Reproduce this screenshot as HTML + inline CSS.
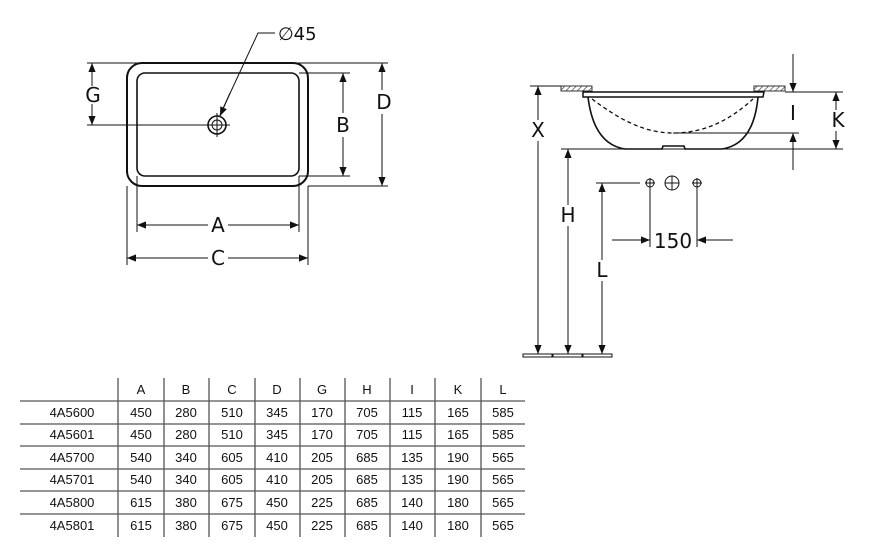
<!DOCTYPE html>
<html><head><meta charset="utf-8"><style>
body{margin:0;background:#fff}
svg{display:block}
text{font-family:"DejaVu Sans","Liberation Sans",sans-serif;fill:#111}
.t text{font-family:"Liberation Sans",sans-serif}
</style></head><body>
<svg width="892" height="548" viewBox="0 0 892 548" xmlns="http://www.w3.org/2000/svg">
<defs>
<marker id="a" viewBox="0 0 10 10" refX="10" refY="5" markerWidth="9" markerHeight="9" orient="auto-start-reverse" markerUnits="userSpaceOnUse"><path d="M0,1 L10,5 L0,9 z" fill="#111"/></marker>
<pattern id="h" width="4" height="4" patternUnits="userSpaceOnUse" patternTransform="rotate(45)"><line x1="0" y1="0" x2="0" y2="4" stroke="#333" stroke-width="1.3"/></pattern>
</defs>
<g stroke="#111" fill="none" stroke-width="1">
<rect x="127" y="63" width="181" height="123" rx="15" stroke-width="2"/>
<rect x="137" y="73" width="162" height="103" rx="8" stroke-width="1.6"/>
<circle cx="217" cy="125" r="9" stroke-width="1.6"/>
<circle cx="217" cy="125" r="5"/>
<line x1="217" y1="113" x2="217" y2="137"/><line x1="205" y1="125" x2="230" y2="125"/>
<line x1="87" y1="63" x2="388" y2="63"/>
<line x1="308" y1="186" x2="388" y2="186"/>
<line x1="299" y1="73" x2="350" y2="73"/><line x1="299" y1="176" x2="350" y2="176"/>
<line x1="87" y1="125" x2="210" y2="125"/>
<line x1="92" y1="86" x2="92" y2="63" marker-end="url(#a)"/><line x1="92" y1="104" x2="92" y2="125" marker-end="url(#a)"/>
<line x1="343" y1="113" x2="343" y2="73" marker-end="url(#a)"/><line x1="343" y1="137" x2="343" y2="176" marker-end="url(#a)"/>
<line x1="382" y1="90" x2="382" y2="63" marker-end="url(#a)"/><line x1="382" y1="114" x2="382" y2="186" marker-end="url(#a)"/>
<line x1="137" y1="176" x2="137" y2="232"/><line x1="299" y1="176" x2="299" y2="232"/>
<line x1="127" y1="186" x2="127" y2="265"/><line x1="308" y1="186" x2="308" y2="265"/>
<line x1="208" y1="225" x2="137" y2="225" marker-end="url(#a)"/><line x1="228" y1="225" x2="299" y2="225" marker-end="url(#a)"/>
<line x1="208" y1="258" x2="127" y2="258" marker-end="url(#a)"/><line x1="228" y1="258" x2="308" y2="258" marker-end="url(#a)"/>
<polyline points="275,33 258,33 220,115"/>
<line x1="230" y1="93" x2="220" y2="116" marker-end="url(#a)"/>
<rect x="561" y="86" width="31" height="5" fill="url(#h)" stroke="#333"/>
<rect x="754" y="86" width="31" height="5" fill="url(#h)" stroke="#333"/>
<path d="M583,92 L764,92 L763,97 L583,97 Z" stroke-width="1.5"/>
<path d="M588,97 C592,130 605,146 625,149 L662,149 L663,146 L684,146 L685,149 L722,149 C742,146 755,130 758,97" stroke-width="1.6"/>
<path d="M592,99 C620,120 645,133 673,133 C705,133 730,120 753,99" stroke-dasharray="4,3" stroke-width="1.3"/>
<line x1="673" y1="133" x2="799" y2="133"/>
<line x1="530" y1="86" x2="561" y2="86"/>
<line x1="561" y1="149" x2="843" y2="149"/>
<line x1="785" y1="92" x2="843" y2="92"/>
<line x1="538" y1="120" x2="538" y2="86" marker-end="url(#a)"/><line x1="538" y1="141" x2="538" y2="354" marker-end="url(#a)"/>
<line x1="836" y1="110" x2="836" y2="92" marker-end="url(#a)"/><line x1="836" y1="131" x2="836" y2="149" marker-end="url(#a)"/>
<line x1="793" y1="54" x2="793" y2="92" marker-end="url(#a)"/><line x1="793" y1="170" x2="793" y2="133" marker-end="url(#a)"/>
<line x1="568" y1="205" x2="568" y2="149" marker-end="url(#a)"/><line x1="568" y1="226" x2="568" y2="354" marker-end="url(#a)"/>
<line x1="596" y1="183" x2="640" y2="183"/>
<line x1="602" y1="260" x2="602" y2="183" marker-end="url(#a)"/><line x1="602" y1="281" x2="602" y2="354" marker-end="url(#a)"/>
<circle cx="650" cy="183" r="4"/><line x1="645" y1="183" x2="655" y2="183"/><line x1="650" y1="178" x2="650" y2="247"/>
<circle cx="697" cy="183" r="4"/><line x1="692" y1="183" x2="702" y2="183"/><line x1="697" y1="178" x2="697" y2="247"/>
<circle cx="672" cy="183" r="7"/><line x1="665" y1="183" x2="679" y2="183"/><line x1="672" y1="176" x2="672" y2="190"/>
<line x1="612" y1="240" x2="650" y2="240" marker-end="url(#a)"/><line x1="733" y1="240" x2="697" y2="240" marker-end="url(#a)"/>
<rect x="523" y="354" width="29" height="3"/>
<rect x="553" y="354" width="29" height="3"/>
<rect x="583" y="354" width="29" height="3"/>
<g stroke="#555" stroke-width="1.3">
<line x1="20" y1="401" x2="525" y2="401"/><line x1="20" y1="424" x2="525" y2="424"/><line x1="20" y1="446" x2="525" y2="446"/><line x1="20" y1="469" x2="525" y2="469"/><line x1="20" y1="491" x2="525" y2="491"/><line x1="20" y1="514" x2="525" y2="514"/>
<line x1="118" y1="378" x2="118" y2="537"/><line x1="164" y1="378" x2="164" y2="537"/><line x1="209" y1="378" x2="209" y2="537"/><line x1="255" y1="378" x2="255" y2="537"/><line x1="300" y1="378" x2="300" y2="537"/><line x1="345" y1="378" x2="345" y2="537"/><line x1="390" y1="378" x2="390" y2="537"/><line x1="435" y1="378" x2="435" y2="537"/><line x1="481" y1="378" x2="481" y2="537"/>
</g>
</g>
<g font-size="20" text-anchor="middle">
<text x="93" y="102">G</text><text x="343" y="132">B</text><text x="384" y="109">D</text>
<text x="218" y="232">A</text><text x="218" y="265">C</text>
<text x="538" y="137">X</text><text x="838" y="127">K</text><text x="793" y="120">I</text>
<text x="568" y="222">H</text><text x="602" y="277">L</text>
<text x="673" y="248">150</text>
</g>
<text x="278" y="40" font-size="18">∅45</text>
<g font-size="13" text-anchor="middle" class="t">
<text x="141" y="394">A</text><text x="186" y="394">B</text><text x="232" y="394">C</text><text x="277" y="394">D</text><text x="322" y="394">G</text><text x="367" y="394">H</text><text x="412" y="394">I</text><text x="458" y="394">K</text><text x="503" y="394">L</text>
<text x="72" y="417">4A5600</text><text x="141" y="417">450</text><text x="186" y="417">280</text><text x="232" y="417">510</text><text x="277" y="417">345</text><text x="322" y="417">170</text><text x="367" y="417">705</text><text x="412" y="417">115</text><text x="458" y="417">165</text><text x="503" y="417">585</text>
<text x="72" y="439">4A5601</text><text x="141" y="439">450</text><text x="186" y="439">280</text><text x="232" y="439">510</text><text x="277" y="439">345</text><text x="322" y="439">170</text><text x="367" y="439">705</text><text x="412" y="439">115</text><text x="458" y="439">165</text><text x="503" y="439">585</text>
<text x="72" y="462">4A5700</text><text x="141" y="462">540</text><text x="186" y="462">340</text><text x="232" y="462">605</text><text x="277" y="462">410</text><text x="322" y="462">205</text><text x="367" y="462">685</text><text x="412" y="462">135</text><text x="458" y="462">190</text><text x="503" y="462">565</text>
<text x="72" y="484">4A5701</text><text x="141" y="484">540</text><text x="186" y="484">340</text><text x="232" y="484">605</text><text x="277" y="484">410</text><text x="322" y="484">205</text><text x="367" y="484">685</text><text x="412" y="484">135</text><text x="458" y="484">190</text><text x="503" y="484">565</text>
<text x="72" y="507">4A5800</text><text x="141" y="507">615</text><text x="186" y="507">380</text><text x="232" y="507">675</text><text x="277" y="507">450</text><text x="322" y="507">225</text><text x="367" y="507">685</text><text x="412" y="507">140</text><text x="458" y="507">180</text><text x="503" y="507">565</text>
<text x="72" y="530">4A5801</text><text x="141" y="530">615</text><text x="186" y="530">380</text><text x="232" y="530">675</text><text x="277" y="530">450</text><text x="322" y="530">225</text><text x="367" y="530">685</text><text x="412" y="530">140</text><text x="458" y="530">180</text><text x="503" y="530">565</text>
</g>
</svg>
</body></html>
